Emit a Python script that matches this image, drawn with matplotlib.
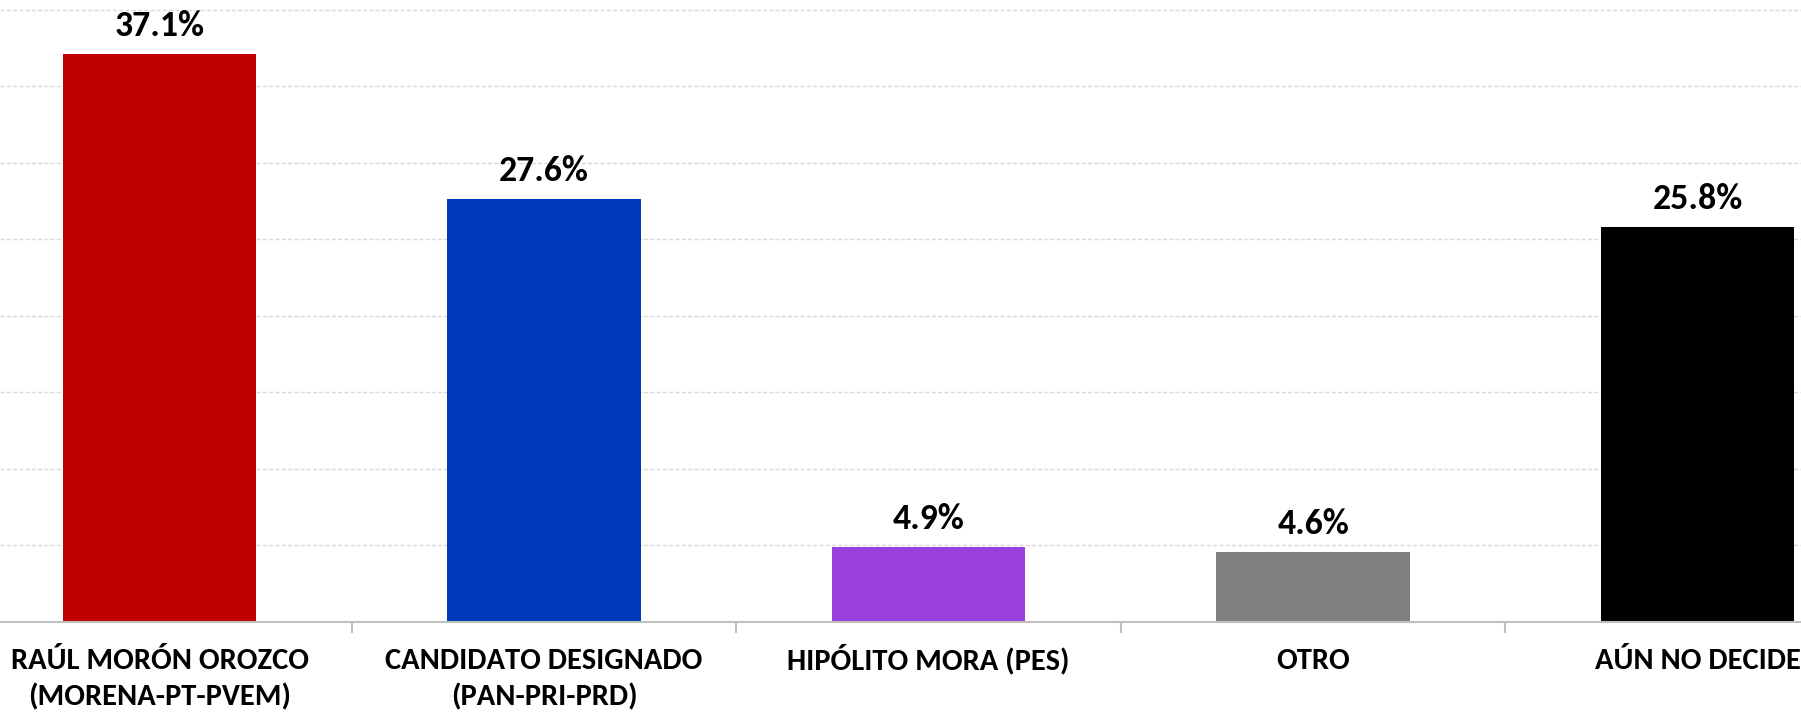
import matplotlib
matplotlib.use("Agg")
import matplotlib.pyplot as plt
import matplotlib.transforms as mtransforms
from matplotlib import font_manager as fm
import numpy as np

categories = ["RAÚL MORÓN OROZCO\n(MORENA-PT-PVEM)", "CANDIDATO DESIGNADO\n(PAN-PRI-PRD)",
              "HIPÓLITO MORA (PES)", "OTRO", "AÚN NO DECIDE"]
values = [37.1, 27.6, 4.9, 4.6, 25.8]
labels = ["37.1%", "27.6%", "4.9%", "4.6%", "25.8%"]
colors = ["#C00000", "#0038BA", "#9A3EDC", "#808080", "#000000"]
grid_values = [5, 10, 15, 20, 25, 30, 35, 40]

avail = {f.name for f in fm.fontManager.ttflist}
main_font = next((p for p in ["Carlito", "Calibri", "Lato", "Open Sans"] if p in avail), "DejaVu Sans")
fam = [main_font, "DejaVu Sans"]

W, H = 1801, 714
fig = plt.figure(figsize=(W / 100, H / 100), dpi=100)
axis_y = 622
ax = fig.add_axes([0, (H - axis_y) / H, 1, axis_y / H])
renderer = fig.canvas.get_renderer()


def fit_size(text, target_px, base=20):
    t = fig.text(0, 0, text, fontsize=base, fontweight="bold", family=fam)
    w = t.get_window_extent(renderer).width
    t.remove()
    return base * target_px / w


cat_size = fit_size("RAÚL MORÓN OROZCO", 297)
val_size = fit_size("37.1%", 90)

x = np.arange(len(values))
ax.bar(x, values, width=0.503, color=colors, zorder=3)

for xv, v, t in zip(x, values, labels):
    ax.annotate(t, (xv, v), xytext=(0, 13), textcoords="offset points",
                ha="center", va="baseline", fontsize=val_size, fontweight="bold",
                family=fam, color="black", zorder=4)

for g in grid_values:
    ax.axhline(g, color="#d9d9d9", lw=1.0, ls=(0, (3, 1.5)), zorder=1)

ax.set_xlim(-0.4153, 4.2687)
ax.set_ylim(0, 40.63)

ax.set_xticks(np.arange(0.5, len(values) - 1, 1.0))
ax.set_xticklabels([])
ax.tick_params(axis="x", which="major", length=8, width=1.5, color="#bfbfbf")
ax.set_yticks([])

trans = mtransforms.blended_transform_factory(ax.transData, fig.transFigure)
line_baselines = [669, 705]
for xv, cat in zip(x, categories):
    for k, line in enumerate(cat.split("\n")):
        fig.text(xv, (H - line_baselines[k]) / H, line, transform=trans,
                 ha="center", va="baseline", fontsize=cat_size, fontweight="bold",
                 family=fam, color="black")

for s in ["left", "right", "top"]:
    ax.spines[s].set_visible(False)
ax.spines["bottom"].set_color("#bfbfbf")
ax.spines["bottom"].set_linewidth(1.5)
ax.spines["bottom"].set_zorder(5)

fig.savefig("out.png", dpi=100)
